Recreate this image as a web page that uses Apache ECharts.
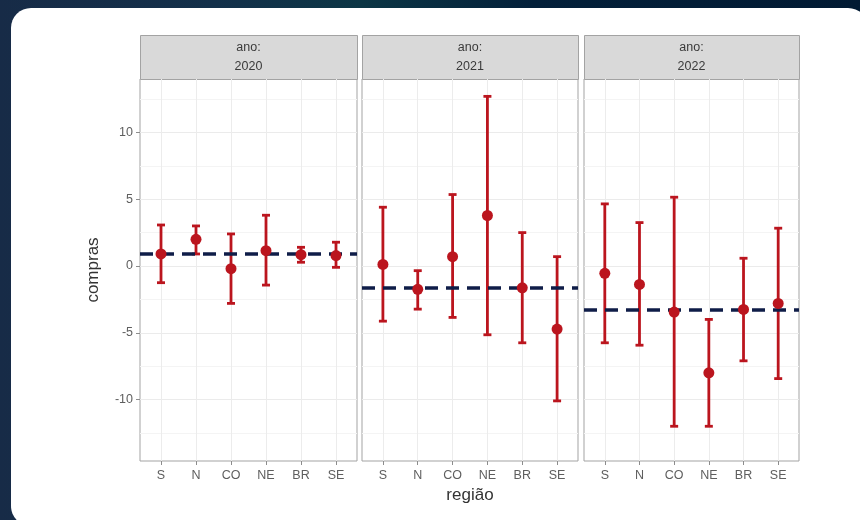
<!DOCTYPE html>
<html><head><meta charset="utf-8">
<script src="https://cdn.jsdelivr.net/npm/echarts@6/dist/echarts.min.js"></script>
<style>
html,body{margin:0;padding:0;width:860px;height:520px;overflow:hidden;}
body{background:linear-gradient(90deg,#172b47 0%,#13304a 25%,#0c3645 42%,#03203a 62%,#011a33 100%);}
#card{position:absolute;left:11px;top:8px;width:857px;height:518px;background:#fff;border-radius:20px;}
#chart{position:absolute;left:0;top:0;width:860px;height:520px;}
</style></head><body><div id="card"></div><div id="chart"></div>
<script>
// ---- data ----
const regions = ['S', 'N', 'CO', 'NE', 'BR', 'SE'];
const years = ['2020', '2021', '2022'];
const mean2020 = [0.9, 2.0, -0.2, 1.15, 0.85, 0.78];
const lo2020   = [-1.25, 0.9, -2.8, -1.43, 0.28, -0.1];
const hi2020   = [3.07, 3.0, 2.4, 3.8, 1.4, 1.78];
const mean2021 = [0.12, -1.75, 0.7, 3.78, -1.63, -4.72];
const lo2021   = [-4.13, -3.23, -3.85, -5.15, -5.75, -10.1];
const hi2021   = [4.4, -0.35, 5.35, 12.7, 2.5, 0.7];
const mean2022 = [-0.55, -1.38, -3.45, -8.0, -3.25, -2.8];
const lo2022   = [-5.75, -5.93, -12.0, -12.0, -7.1, -8.43];
const hi2022   = [4.65, 3.25, 5.15, -4.0, 0.58, 2.83];
const refLine  = [0.88, -1.63, -3.28];
const yTicks = [-10, -5, 0, 5, 10];
const yMinor = [-12.5, -7.5, -2.5, 2.5, 7.5, 12.5];
const yMin = -14.6, yMax = 14.0;

const means = [mean2020, mean2021, mean2022];
const los = [lo2020, lo2021, lo2022];
const his = [hi2020, hi2021, hi2022];

// ---- layout ----
const FONT = '"Liberation Sans", Arial, sans-serif';
const panels = [{left: 140, width: 217}, {left: 362, width: 216}, {left: 584, width: 215}];
const plotTop = 79, plotHeight = 382;
const RED = '#bb151e';
const NAVY = '#0f1d48';
const xIdx = regions.map((r, i) => i);

const grids = [], xAxes = [], yAxes = [], series = [], graphics = [];
panels.forEach((p, k) => {
  grids.push({left: p.left, top: plotTop, width: p.width, height: plotHeight, show: true,
    borderColor: '#a3a3a3', borderWidth: 1, backgroundColor: 'transparent'});
  xAxes.push({type: 'value', gridIndex: k, min: -0.6, max: 5.6, position: 'bottom',
    axisLine: {show: false, onZero: false},
    axisTick: {show: true, length: 4, customValues: xIdx, lineStyle: {color: '#8c8c8c'}},
    axisLabel: {customValues: xIdx, formatter: v => regions[Math.round(v)], color: '#5e5e5e',
      fontSize: 12.5, fontFamily: FONT, margin: 8},
    splitLine: {show: true, lineStyle: {color: '#ececec', width: 1}},
    name: k === 1 ? 'região' : '', nameLocation: 'middle', nameGap: 24,
    nameTextStyle: {fontSize: 17, color: '#333', fontFamily: FONT}
  });
  // major axis
  yAxes.push({type: 'value', gridIndex: k, min: yMin, max: yMax, position: 'left',
    axisLine: {show: false, onZero: false},
    axisTick: {show: k === 0, length: 4, customValues: yTicks, lineStyle: {color: '#8c8c8c'}},
    axisLabel: {show: k === 0, customValues: yTicks, color: '#5e5e5e', fontSize: 12.5, fontFamily: FONT, margin: 7},
    splitLine: {show: true, lineStyle: {color: '#ebebeb', width: 1}},
    name: k === 0 ? 'compras' : '', nameLocation: 'middle', nameGap: 38, nameRotate: 90,
    nameTextStyle: {fontSize: 17, color: '#333', fontFamily: FONT}
  });
  // minor gridlines axis
  yAxes.push({type: 'value', gridIndex: k, min: yMin, max: yMax, position: 'left',
    axisLine: {show: false, onZero: false},
    axisTick: {show: false, customValues: yMinor},
    axisLabel: {show: false, customValues: yMinor},
    splitLine: {show: true, lineStyle: {color: '#f4f4f4', width: 1}}
  });
  const yi = k * 2;
  series.push({
    type: 'custom', xAxisIndex: k, yAxisIndex: yi, z: 3,
    data: regions.map((r, i) => [i, los[k][i], his[k][i]]),
    encode: {x: 0, y: [1, 2]},
    renderItem: function (params, api) {
      const x = api.value(0), lo = api.value(1), hi = api.value(2);
      const a = api.coord([x, lo]), b = api.coord([x, hi]);
      const cap = 4;
      const st = {stroke: RED, lineWidth: 2.8, fill: null};
      return {type: 'group', children: [
        {type: 'line', shape: {x1: a[0], y1: a[1], x2: b[0], y2: b[1]}, style: st},
        {type: 'line', shape: {x1: a[0] - cap, y1: a[1], x2: a[0] + cap, y2: a[1]}, style: st},
        {type: 'line', shape: {x1: b[0] - cap, y1: b[1], x2: b[0] + cap, y2: b[1]}, style: st}
      ]};
    }
  });
  series.push({
    type: 'line', xAxisIndex: k, yAxisIndex: yi, z: 4, data: [], symbol: 'none',
    markLine: {silent: true, symbol: 'none', label: {show: false},
      lineStyle: {color: NAVY, width: 3.5, type: [13, 8], opacity: 1},
      data: [{yAxis: refLine[k]}]}
  });
  series.push({
    type: 'scatter', xAxisIndex: k, yAxisIndex: yi, z: 5,
    data: regions.map((r, i) => [i, means[k][i]]),
    symbol: 'circle', symbolSize: 11, itemStyle: {color: RED, opacity: 1}
  });
  graphics.push({type: 'rect', left: p.left, top: 35,
    shape: {width: p.width, height: 44},
    style: {fill: '#d9d9d9', stroke: '#a3a3a3', lineWidth: 1}});
  graphics.push({type: 'text', x: p.left + p.width / 2, y: 57,
    style: {text: 'ano:\n' + years[k], align: 'center', verticalAlign: 'middle',
      fontSize: 12.5, lineHeight: 19, fill: '#3a3a3a', fontFamily: FONT}});
});

const chart = echarts.init(document.getElementById('chart'), null, {renderer: 'canvas'});
chart.setOption({
  backgroundColor: 'transparent',
  animation: false,
  grid: grids, xAxis: xAxes, yAxis: yAxes, series: series, graphic: graphics
});
</script></body></html>
